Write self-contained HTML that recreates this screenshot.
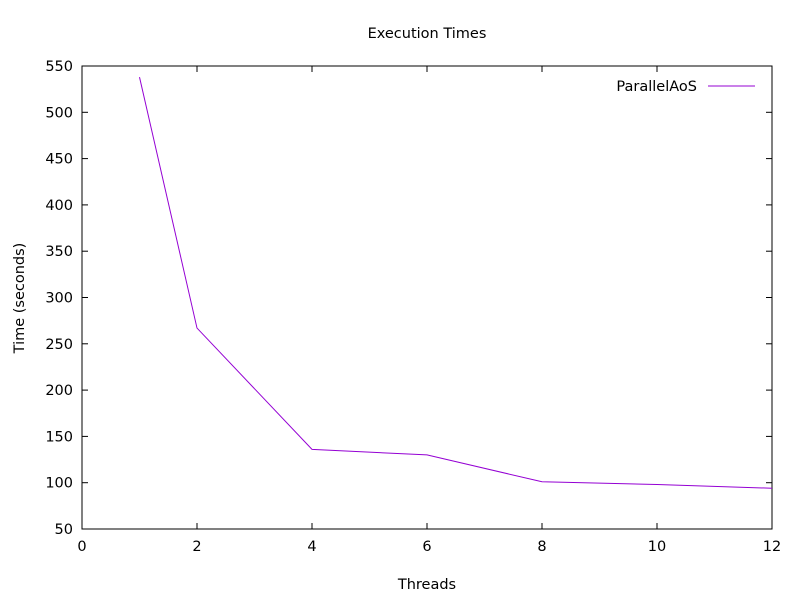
<!DOCTYPE html>
<html><head><meta charset="utf-8"><style>
body{margin:0;background:#fff;}
svg text{font-family:"DejaVu Sans","Liberation Sans",sans-serif;font-size:14.5px;fill:#000;}
</style></head><body>
<svg id="chart" width="800" height="600" xmlns="http://www.w3.org/2000/svg">
<rect width="800" height="600" fill="#fff"/>
<g id="axes"></g>
<text x="427" y="38" text-anchor="middle">Execution Times</text>
<text x="427" y="589" text-anchor="middle">Threads</text>
<text transform="translate(24,298) rotate(-90)" text-anchor="middle">Time (seconds)</text>
<g>
<text x="697" y="91" text-anchor="end">ParallelAoS</text>
<line x1="708" y1="86" x2="755" y2="86" stroke="#9400d3" stroke-width="1"/>
</g>
</svg>
<script>
const threads=[1,2,4,6,8,10,12];
const times=[538,267,136,130,101,98,94];
const xTicks=[0,2,4,6,8,10,12];
const yTicks=[50,100,150,200,250,300,350,400,450,500,550];
const L=82,R=772,T=66,B=529;
function xs(v){return L+(v-0)/(12-0)*(R-L);}
function ys(v){return B-(v-50)/(550-50)*(B-T);}
const NS="http://www.w3.org/2000/svg";
const g=document.getElementById('axes');
function mk(t,a,p){const e=document.createElementNS(NS,t);for(const k in a)e.setAttribute(k,a[k]);(p||g).appendChild(e);return e;}
const frame=mk('rect',{x:L,y:T,width:R-L,height:B-T,fill:'none',stroke:'#000','stroke-width':1});


xTicks.forEach(v=>{
 const x=xs(v);
 const t1=mk('line',{x1:x,y1:B,x2:x,y2:B-6,stroke:'#000'});
 
 
 const t2=mk('line',{x1:x,y1:T,x2:x,y2:T+6,stroke:'#000'});
 
 
 const tx=mk('text',{x:x,y:B+22,'text-anchor':'middle'});tx.textContent=v;
 
 
});
yTicks.forEach(v=>{
 const y=ys(v);
 const t1=mk('line',{x1:L,y1:y,x2:L+6,y2:y,stroke:'#000'});
 
 
 const t2=mk('line',{x1:R,y1:y,x2:R-6,y2:y,stroke:'#000'});
 
 
 const tx=mk('text',{x:L-9,y:y+5,'text-anchor':'end'});tx.textContent=v;
 
 
});
const pts=threads.map((t,i)=>xs(t)+','+ys(times[i])).join(' ');
const line=mk('polyline',{points:pts,fill:'none',stroke:'#9400d3','stroke-width':1});


</script>
</body></html>
